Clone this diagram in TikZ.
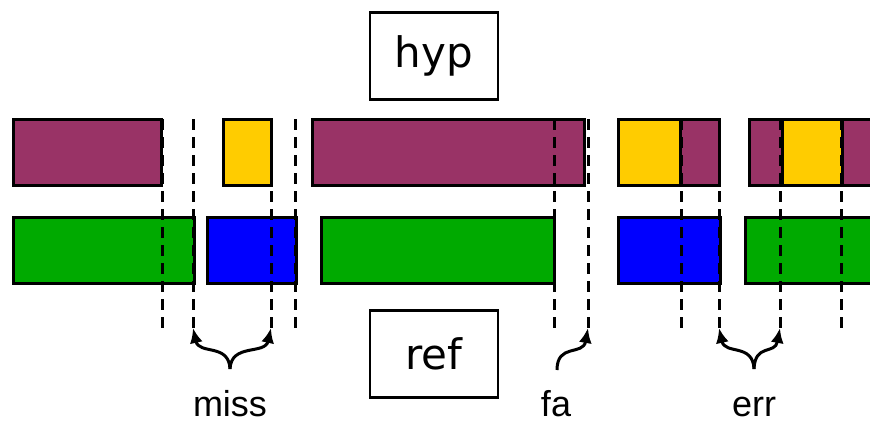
\documentclass[tikz,border=0pt]{standalone}
\usepackage{fontspec}
\setmainfont{Liberation Sans}
\newfontfamily\boxfont{DejaVu Sans}
\usetikzlibrary{arrows.meta}
\definecolor{hpurple}{HTML}{993366}
\definecolor{hyellow}{HTML}{FFCC00}
\definecolor{hgreen}{HTML}{00AA00}
\definecolor{hblue}{HTML}{0000FF}
\begin{document}
\begin{tikzpicture}[x=1pt,y=-1pt,
  seg/.style={draw=black,line width=3pt,anchor=north west,inner sep=0pt,outer sep=0pt,minimum height=66pt},
  dashline/.style={line width=3pt,dash pattern=on 11pt off 7pt},
  brarrow/.style={line width=3pt,arrows={-Latex[length=15pt,width=13pt]}},
  titlebox/.style={draw=black,line width=2.5pt,minimum width=128pt,minimum height=87pt,inner sep=0pt,font=\boxfont\fontsize{42}{46}\selectfont},
  lab/.style={anchor=base,inner sep=0pt,font=\fontsize{36}{40}\selectfont}]
\useasboundingbox (0,0) rectangle (870,423);
% title boxes
\node[titlebox] (hyp) at (434,56) {hyp};
\node[titlebox] (ref) at (434,354) {ref};
% hyp row
\node[seg,fill=hpurple,minimum width=148pt] (h1) at (13,119) {};
\node[seg,fill=hyellow,minimum width=48pt] (h2) at (223,119) {};
\node[seg,fill=hpurple,minimum width=272pt] (h3) at (312,119) {};
\node[seg,fill=hyellow,minimum width=62pt] (h4) at (618,119) {};
\node[seg,fill=hpurple,minimum width=39pt] (h5) at (680,119) {};
\node[seg,fill=hpurple,minimum width=33pt] (h6) at (749,119) {};
\node[seg,fill=hyellow,minimum width=60pt] (h7) at (782,119) {};
\node[seg,fill=hpurple,minimum width=40pt] (h8) at (842,119) {};
% ref row
\node[seg,fill=hgreen,minimum width=181pt] (r1) at (13,217) {};
\node[seg,fill=hblue,minimum width=89pt] (r2) at (207,217) {};
\node[seg,fill=hgreen,minimum width=233pt] (r3) at (321,217) {};
\node[seg,fill=hblue,minimum width=102pt] (r4) at (618,217) {};
\node[seg,fill=hgreen,minimum width=140pt] (r5) at (745,217) {};
% dashed boundaries
\foreach \n/\x in {a/162,b/193,c/271,d/295,e/554,f/588,g/681,h/719,i/780,j/841}{
  \coordinate (\n t) at (\x,119);
  \coordinate (\n b) at (\x,328);
  \draw[dashline] (\n t) -- (\n b);
}
% labels
\node[lab] (miss) at (230,416) {miss};
\node[lab] (fa) at (556,416) {fa};
\node[lab] (err) at (754,416) {err};
\coordinate (missp) at (230,369);
\coordinate (fap) at (557,370);
\coordinate (errp) at (754,369);
% arrows
\draw[brarrow] (missp) .. controls (229,343) and (199,355) .. (bb);
\draw[brarrow] (missp) .. controls (231,343) and (265,355) .. (cb);
\draw[brarrow] (fap) .. controls (557,343) and (583,356) .. (fb);
\draw[brarrow] (errp) .. controls (753,343) and (725,355) .. (hb);
\draw[brarrow] (errp) .. controls (755,343) and (775,355) .. (ib);
\end{tikzpicture}
\end{document}
